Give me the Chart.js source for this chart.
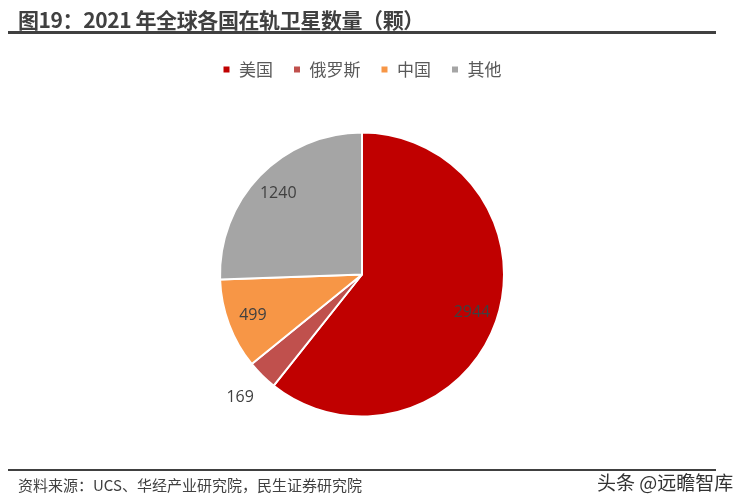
<!DOCTYPE html>
<html><head><meta charset="utf-8">
<script src="https://cdn.jsdelivr.net/npm/chart.js@4/dist/chart.umd.min.js"></script>
<style>
html,body{margin:0;padding:0;background:#fff;width:741px;height:504px;overflow:hidden;font-family:"Noto Sans CJK SC",sans-serif;}
#title{position:absolute;left:18px;top:4px;font-size:21px;font-weight:bold;color:#404040;white-space:nowrap;letter-spacing:-0.4px;}
#line1{position:absolute;left:8px;top:31px;width:708px;height:3px;background:#404040;}
#line2{position:absolute;left:8px;top:469px;width:708px;height:2px;background:#404040;}
#source{position:absolute;left:18px;top:474px;font-size:15px;color:#404040;white-space:nowrap;}
#wm{position:absolute;left:597px;top:468px;font-size:19px;color:#333;white-space:nowrap;}
#wrap{position:absolute;left:0;top:0;width:741px;height:504px;}
</style></head>
<body>
<div id="wrap"><canvas id="c"></canvas></div>
<div id="title">图19：2021 年全球各国在轨卫星数量（颗）</div>
<div id="line1"></div>
<div id="line2"></div>
<div id="source">资料来源：UCS、华经产业研究院，民生证券研究院</div>
<div id="wm">头条 @远瞻智库</div>
<script>
const categories = ["美国", "俄罗斯", "中国", "其他"];
const satellites = [2944, 169, 499, 1240];
const colors = ["#C00000", "#C0504D", "#F79646", "#A5A5A5"];
const labelRadius = [0.82, 1.22, 0.82, 0.82];

const labelPlugin = {
  id: 'sliceLabels',
  afterDatasetsDraw(chart) {
    const ctx = chart.ctx;
    const meta = chart.getDatasetMeta(0);
    ctx.save();
    ctx.font = '16px "Open Sans", "Noto Sans", sans-serif';
    ctx.fillStyle = '#404040';
    ctx.textAlign = 'center';
    ctx.textBaseline = 'middle';
    meta.data.forEach((arc, i) => {
      const p = arc.getProps(['x','y','startAngle','endAngle','outerRadius'], true);
      const mid = (p.startAngle + p.endAngle) / 2;
      const r = p.outerRadius * labelRadius[i];
      ctx.fillText(String(satellites[i]), p.x + Math.cos(mid) * r, p.y + Math.sin(mid) * r);
    });
    ctx.restore();
  }
};

new Chart(document.getElementById('c'), {
  type: 'pie',
  data: {
    labels: categories,
    datasets: [{
      data: satellites,
      backgroundColor: colors,
      borderColor: '#ffffff',
      borderWidth: 2,
      radius: 142
    }]
  },
  options: {
    responsive: true,
    maintainAspectRatio: false,
    animation: false,
    layout: { padding: { top: 41, bottom: 43, left: 0, right: 17 } },
    plugins: {
      legend: {
        position: 'top',
        labels: {
          usePointStyle: true,
          pointStyle: 'rect',
          boxWidth: 8,
          boxHeight: 8,
          padding: 20,
          color: '#595959',
          font: { size: 17, family: '"Noto Sans CJK SC", sans-serif' }
        }
      },
      tooltip: { enabled: false }
    }
  },
  plugins: [labelPlugin]
});
</script>
</body></html>
